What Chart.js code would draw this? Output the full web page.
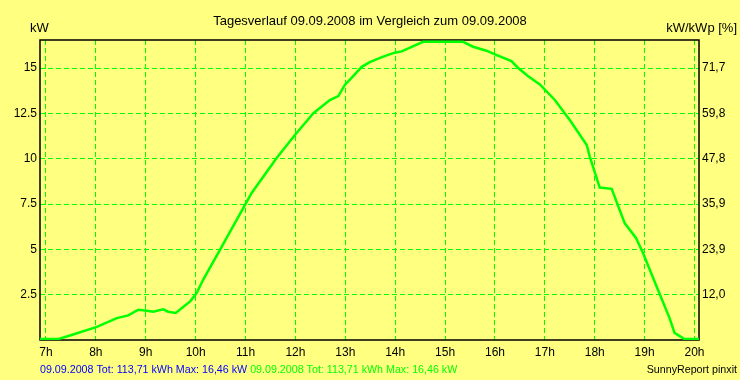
<!DOCTYPE html>
<html>
<head>
<meta charset="utf-8">
<title>Tagesverlauf</title>
<script src="https://cdn.jsdelivr.net/npm/chart.js@4.4.1/dist/chart.umd.min.js"></script>
<style>
  html, body { margin: 0; padding: 0; background: #ffff80; }
  canvas { display: block; }
</style>
</head>
<body>
<canvas id="chart" width="740" height="380"></canvas>
<script>
// Zeitpunkte (Stunden) und Leistung (kW)
var hours = [6.88, 7.24, 7.48, 8.02, 8.42, 8.65, 8.85, 9.02, 9.15, 9.35, 9.45, 9.60, 9.89,
             10.02, 10.15, 10.49, 10.99, 11.12, 11.62, 11.99, 12.36, 12.69, 12.86, 12.99,
             13.13, 13.33, 13.49, 13.76, 13.99, 14.13, 14.56, 15.36, 15.56, 15.83, 16.00,
             16.33, 16.46, 16.66, 16.90, 17.20, 17.50, 17.84, 17.90, 18.10, 18.34, 18.60,
             18.83, 18.97, 19.24, 19.50, 19.60, 19.80, 20.09];
var power = [0.05, 0.05, 0.25, 0.72, 1.21, 1.36, 1.67, 1.61, 1.56, 1.69, 1.56, 1.49, 2.13,
             2.59, 3.32, 4.98, 7.45, 8.10, 10.03, 11.31, 12.51, 13.24, 13.46, 14.07,
             14.47, 15.07, 15.33, 15.63, 15.85, 15.92, 16.45, 16.45, 16.18, 15.96, 15.76,
             15.39, 15.02, 14.56, 14.10, 13.24, 12.14, 10.76, 10.12, 8.41, 8.34, 6.45,
             5.62, 4.79, 2.95, 1.21, 0.39, 0.05, 0.05];

var xTickValues = [7, 8, 9, 10, 11, 12, 13, 14, 15, 16, 17, 18, 19, 20];
var xTickLabels = ['7h', '8h', '9h', '10h', '11h', '12h', '13h', '14h', '15h', '16h', '17h', '18h', '19h', '20h'];
var yTickValues = [2.5, 5, 7.5, 10, 12.5, 15];
var yTickLabels = ['2.5', '5', '7.5', '10', '12.5', '15'];
var y2TickLabels = ['12,0', '23,9', '35,9', '47,8', '59,8', '71,7'];

var titleText = 'Tagesverlauf 09.09.2008 im Vergleich zum 09.09.2008';
var footBlue = '09.09.2008 Tot: 113,71 kWh Max: 16,46 kW';
var footGreen = '09.09.2008 Tot: 113,71 kWh Max: 16,46 kW';

var BG = '#ffff80';
var GREEN = '#00ff00';
var FONT = '"Liberation Sans", Arial, sans-serif';

var paper = {
    id: 'paper',
    beforeDraw: function (chart) {
        var ctx = chart.ctx;
        ctx.save();
        ctx.fillStyle = BG;
        ctx.fillRect(0, 0, chart.width, chart.height);
        ctx.restore();
    },
    beforeDatasetsDraw: function (chart) {
        var a = chart.chartArea, ctx = chart.ctx;
        ctx.save();
        ctx.strokeStyle = '#000';
        ctx.lineWidth = 1.5;
        ctx.strokeRect(a.left, a.top, a.right - a.left, a.bottom - a.top);
        ctx.restore();
    },
    afterDraw: function (chart) {
        var ctx = chart.ctx;
        ctx.save();
        ctx.textBaseline = 'alphabetic';
        ctx.fillStyle = '#000';
        ctx.font = '13px ' + FONT;
        ctx.textAlign = 'center';
        ctx.fillText(titleText, 370, 25);
        ctx.textAlign = 'left';
        ctx.fillText('kW', 30, 32);
        ctx.textAlign = 'right';
        ctx.fillText('kW/kWp [%]', 737, 32);

        ctx.font = '10.7px ' + FONT;
        ctx.textAlign = 'left';
        ctx.fillStyle = '#0000ff';
        ctx.fillText(footBlue, 40, 373);
        var w = ctx.measureText(footBlue).width + 3;
        ctx.fillStyle = GREEN;
        ctx.fillText(footGreen, 40 + w, 373);
        ctx.fillStyle = '#000';
        ctx.textAlign = 'right';
        ctx.fillText('SunnyReport pinxit', 737, 373);
        ctx.restore();
    }
};

var points = hours.map(function (h, i) { return { x: h, y: power[i] }; });

new Chart(document.getElementById('chart'), {
    type: 'line',
    data: {
        datasets: [{
            data: points,
            borderColor: GREEN,
            borderWidth: 2.5,
            pointRadius: 0,
            tension: 0,
            fill: false
        }]
    },
    options: {
        responsive: false,
        animation: false,
        devicePixelRatio: 1,
        layout: { padding: { top: 40, bottom: 20, left: 0, right: 0 } },
        plugins: { legend: { display: false }, tooltip: { enabled: false } },
        scales: {
            x: {
                type: 'linear',
                min: 6.88,
                max: 20.09,
                afterBuildTicks: function (s) { s.ticks = xTickValues.map(function (v) { return { value: v }; }); },
                afterFit: function (s) { s.height = 20; },
                ticks: {
                    color: '#000',
                    font: { family: FONT, size: 12 },
                    padding: 5,
                    maxRotation: 0,
                    autoSkip: false,
                    callback: function (v, i) { return xTickLabels[i]; }
                },
                grid: { color: GREEN, lineWidth: 1, drawTicks: false },
                border: { display: false, dash: [5, 3] }
            },
            y: {
                position: 'left',
                min: 0,
                max: 16.55,
                afterBuildTicks: function (s) { s.ticks = yTickValues.map(function (v) { return { value: v }; }); },
                afterFit: function (s) { s.width = 40; },
                ticks: {
                    color: '#000',
                    font: { family: FONT, size: 12 },
                    padding: 3,
                    callback: function (v, i) { return yTickLabels[i]; }
                },
                grid: { color: GREEN, lineWidth: 1, drawTicks: false },
                border: { display: false, dash: [5, 3] }
            },
            y2: {
                position: 'right',
                min: 0,
                max: 16.55,
                afterBuildTicks: function (s) { s.ticks = yTickValues.map(function (v) { return { value: v }; }); },
                afterFit: function (s) { s.width = 41; },
                ticks: {
                    color: '#000',
                    font: { family: FONT, size: 12 },
                    padding: 3,
                    callback: function (v, i) { return y2TickLabels[i]; }
                },
                grid: { display: false, drawTicks: false },
                border: { display: false }
            }
        }
    },
    plugins: [paper]
});
</script>
</body>
</html>
